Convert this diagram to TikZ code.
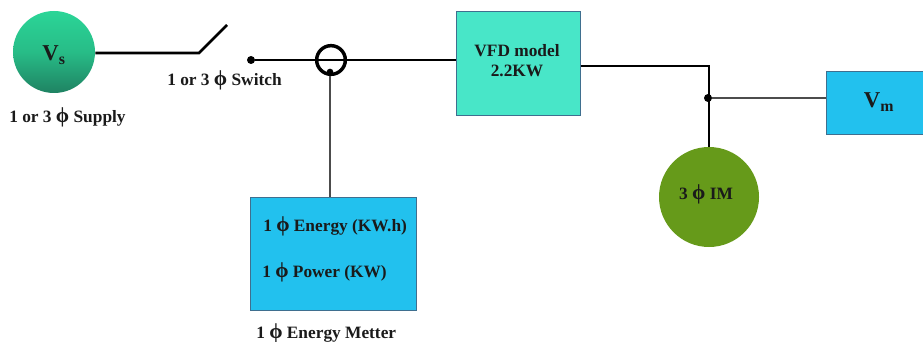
\documentclass[tikz,border=0pt]{standalone}
\usepackage{fontspec}
\setmainfont{Liberation Serif}
\usepackage{tikz}
\usetikzlibrary{positioning,calc}
\definecolor{fuente}{HTML}{2BD597}
\definecolor{fuenteb}{HTML}{1F8262}
\definecolor{variador}{HTML}{48E6C8}
\definecolor{medidor}{HTML}{22C1EE}
\definecolor{motor}{HTML}{669A1A}
\definecolor{borde}{HTML}{3F6F8F}
\definecolor{tinta}{HTML}{1A1A1A}
\newcommand{\fase}{{\fontsize{16}{16}\selectfont ϕ}}
\tikzset{
  caja/.style={draw=borde, line width=0.6pt, minimum width=#1, inner sep=0pt, anchor=north west},
  etiqueta/.style={font=\fontsize{13}{15}\selectfont\bfseries, text=tinta, inner sep=0pt},
  cable/.style={black, line width=2pt},
  hilo/.style={black!70, line width=1.2pt},
  punto/.style={circle, fill=black, inner sep=0pt, minimum size=6pt}
}
\begin{document}
\begin{tikzpicture}[x=0.75pt, y=-0.75pt]
        \useasboundingbox (0,0) rectangle (923,342);
        % fuente y llave
        \node[circle, minimum size=61.5pt, inner sep=0pt, top color=fuente, bottom color=fuenteb, middle color=fuente!70!fuenteb] (vs) at (54,52) {};
        \node[font=\fontsize{17}{18}\selectfont\bfseries, text=tinta, inner sep=0pt] (vslabel) at (54,55) {V\textsubscript{s}};
        \node[etiqueta, anchor=west] (supply) at (9,117) {1 or 3 \fase{} Supply};
        \coordinate (kink) at (199,53);
        \coordinate (blade) at (227,25);
        \node[punto] (contact) at (251,60) {};
        \node[etiqueta, anchor=west] (switch) at (167,80) {1 or 3 \fase{} Switch};
        \draw[cable] (vs.east |- kink) -- (kink) -- (blade);
        % medidor
        \node[caja=124.5pt, fill=medidor, minimum height=84.75pt] (meter) at (250,197) {};
        \node[etiqueta, anchor=west] (energy) at (263,226) {1 \fase{} Energy (KW.h)};
        \node[etiqueta, anchor=west] (power) at (262,272) {1 \fase{} Power (KW)};
        \node[etiqueta, anchor=west] (metter) at (256,333) {1 \fase{} Energy Metter};
        % variador
        \node[caja=93pt, fill=variador, minimum height=78pt] (vfd) at (456,11) {};
        \node[etiqueta, align=center] (vfdlabel) at (517,61) {VFD model\\2.2KW};
        \node[circle, draw=black, line width=2.6pt, minimum size=21.5pt, inner sep=0pt] (ring) at (331,60) {};
        \node[punto, minimum size=5pt] (tap) at (330,72) {};
        \draw[cable] (contact) -- (vfd.west |- contact);
        \draw[hilo] (tap) -- (meter.north -| tap);
        % motor y tension
        \node[circle, fill=motor, minimum size=75pt, inner sep=0pt] (im) at (709,197) {};
        \node[etiqueta] (imlabel) at (706,194) {3 \fase{} IM};
        \node[caja=73pt, fill=medidor, minimum height=47pt] (vm) at (826,71) {};
        \node[font=\fontsize{17}{18}\selectfont\bfseries, text=tinta, inner sep=0pt] (vmlabel) at (879,102) {V\textsubscript{m}};
        \coordinate (corner) at (709,66);
        \node[punto] (junction) at (708,98) {};
        \draw[cable] (vfd.east |- corner) -- (corner) -- (im.north);
        \draw[hilo] (junction) -- (vm.west |- junction);
\end{tikzpicture}
\end{document}
